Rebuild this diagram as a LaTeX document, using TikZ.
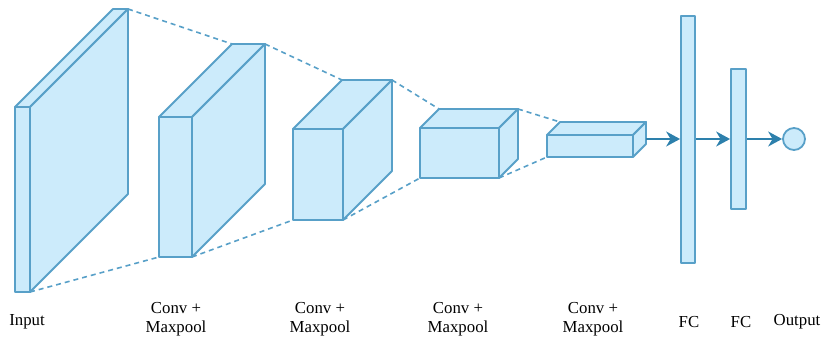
\documentclass[tikz,border=0pt]{standalone}
\usepackage{fontspec}
\setmainfont{Liberation Serif}
\usetikzlibrary{arrows.meta,calc}
\definecolor{boxfill}{RGB}{204,235,251}
\definecolor{boxline}{RGB}{88,160,200}
\definecolor{arrline}{RGB}{45,128,172}
\tikzset{
  face/.style={draw=boxline, fill=boxfill, line width=1.8pt, line join=round},
  link/.style={draw=boxline, line width=1.6pt, dash pattern=on 5pt off 4pt},
  flow/.style={draw=arrline, line width=1.6pt, -{Stealth[length=14pt,width=15pt,inset=4.5pt]}},
  lbl/.style={font=\fontsize{16.8}{18.5}\selectfont, align=center, inner sep=0pt}
}
% \cnnblock{name}{x1}{x2}{y1}{y2}{depth}
\newcommand{\cnnblock}[6]{%
  \coordinate (#1-ftl) at (#2,#4);
  \coordinate (#1-ftr) at (#3,#4);
  \coordinate (#1-fbl) at (#2,#5);
  \coordinate (#1-fbr) at (#3,#5);
  \coordinate (#1-btl) at ($(#2,#4)+(#6,-#6)$);
  \coordinate (#1-btr) at ($(#3,#4)+(#6,-#6)$);
  \coordinate (#1-bbr) at ($(#3,#5)+(#6,-#6)$);
  \path[face] (#1-ftl) rectangle (#1-fbr);
  \path[face] (#1-ftl) -- (#1-btl) -- (#1-btr) -- (#1-ftr) -- cycle;
  \path[face] (#1-ftr) -- (#1-btr) -- (#1-bbr) -- (#1-fbr) -- cycle;
}
\begin{document}
\begin{tikzpicture}[x=1pt,y=-1pt]
\useasboundingbox (0,0) rectangle (822,339);
\cnnblock{b1}{15}{30}{107}{292}{98}
\cnnblock{b2}{159}{192}{117}{257}{73}
\cnnblock{b3}{293}{343}{129}{220}{49}
\cnnblock{b4}{420}{499}{128}{178}{19}
\cnnblock{b5}{547}{633}{135}{157}{13}
\draw[link] (b1-btr) -- (b2-btl);
\draw[link] (b1-fbr) -- (b2-fbl);
\draw[link] (b2-btr) -- (b3-btl);
\draw[link] (b2-fbr) -- (b3-fbl);
\draw[link] (b3-btr) -- (b4-btl);
\draw[link] (b3-fbr) -- (b4-fbl);
\draw[link] (b4-btr) -- (b5-btl);
\draw[link] (b4-fbr) -- (b5-fbl);
% fully connected layers
\node[face, minimum width=14pt, minimum height=247pt, inner sep=0pt] (fc1) at (688,139.5) {};
\node[face, minimum width=15pt, minimum height=140pt, inner sep=0pt] (fc2) at (738.5,139) {};
\node[face, circle, minimum size=22pt, inner sep=0pt] (out) at (794,139) {};
\coordinate (b5-out) at (646,139);
\draw[flow] (b5-out) -- (fc1.west |- b5-out);
\draw[flow] (fc1.east |- b5-out) -- (fc2.west |- b5-out);
\draw[flow] (fc2.east |- b5-out) -- (out.west);
% labels
\node[lbl] (l1) at (27,322) {Input};
\node[lbl] (l2) at (176,319) {Conv +\\Maxpool};
\node[lbl] (l3) at (320,319) {Conv +\\Maxpool};
\node[lbl] (l4) at (458,319) {Conv +\\Maxpool};
\node[lbl] (l5) at (593,319) {Conv +\\Maxpool};
\node[lbl] (l6) at (689,322) {FC};
\node[lbl] (l7) at (741,322) {FC};
\node[lbl] (l8) at (797,322) {Output};
\end{tikzpicture}
\end{document}
